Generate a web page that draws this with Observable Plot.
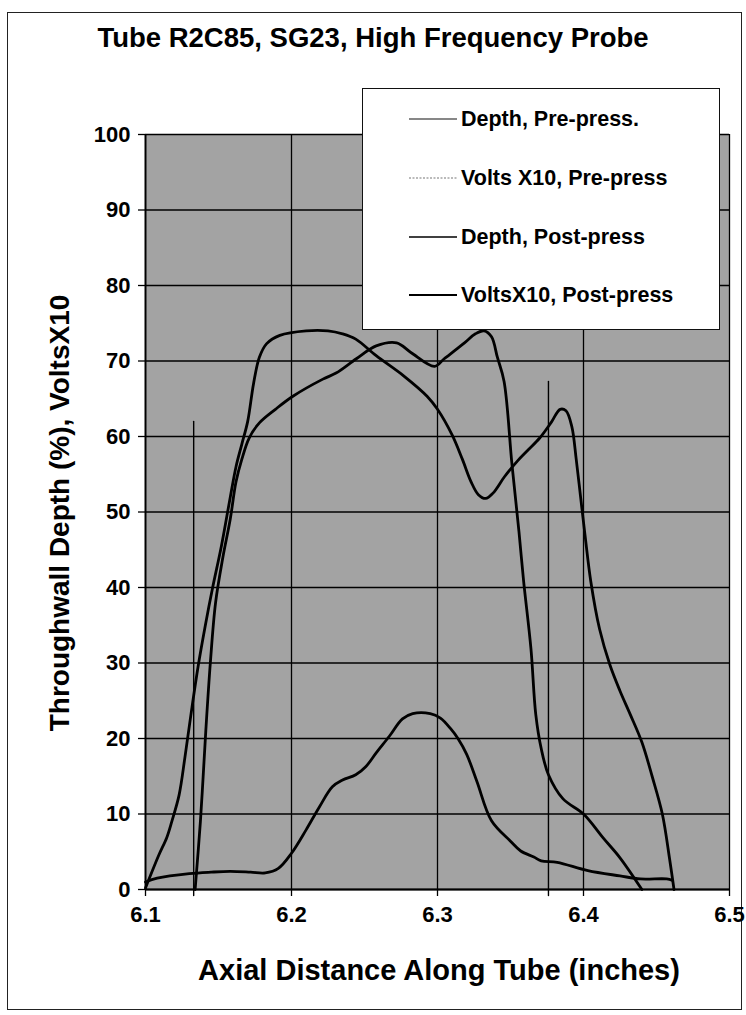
<!DOCTYPE html>
<html><head><meta charset="utf-8">
<script src="https://cdn.jsdelivr.net/npm/d3@7"></script>
<script src="https://cdn.jsdelivr.net/npm/@observablehq/plot@0.6"></script>
<style>
body{margin:0;background:#fff;}
#wrap{position:relative;width:746px;height:1015px;overflow:hidden;font-family:"Liberation Sans",Arial,sans-serif;font-weight:bold;color:#000;}
#border{position:absolute;left:7px;top:12px;width:735px;height:998px;border:1.5px solid #222;box-sizing:border-box;}
#chart{position:absolute;left:0;top:0;}
#title{position:absolute;left:0;width:746px;top:22px;text-align:center;font-size:27.5px;white-space:nowrap;}
#ytitle{position:absolute;left:60px;top:513px;transform:translate(-50%,-50%) rotate(-90deg);font-size:28px;white-space:nowrap;}
#xtitle{position:absolute;left:439px;top:970px;transform:translate(-50%,-50%);font-size:29px;white-space:nowrap;}
#legend{position:absolute;left:362px;top:88px;width:358px;height:242px;background:#fff;border:1.3px solid #111;box-sizing:border-box;}
.entry{position:absolute;left:44px;height:26px;display:flex;align-items:center;font-size:21.5px;white-space:nowrap;}
.entry svg{margin-right:4px;}
</style>
</head><body>
<div id="wrap">
  <div id="border"></div>
  <div id="chart"></div>
  <div id="title"></div>
  <div id="ytitle"></div>
  <div id="xtitle"></div>
  <div id="legend"></div>
</div>
<script>
// ---- text ----
const titleText = "Tube R2C85, SG23, High Frequency Probe";
const xTitle = "Axial Distance Along Tube (inches)";
const yTitle = "Throughwall Depth (%), VoltsX10";
const seriesNames = ["Depth, Pre-press.", "Volts X10, Pre-press", "Depth, Post-press", "VoltsX10, Post-press"];

// ---- ticks ----
const xTicks = [6.1, 6.2, 6.3, 6.4, 6.5];
const xTickLabels = ["6.1", "6.2", "6.3", "6.4", "6.5"];
const yTicks = [0, 10, 20, 30, 40, 50, 60, 70, 80, 90, 100];

// ---- Depth, Pre-press (two vertical segments) ----
const depthPreX   = [6.133, 6.133, 6.376, 6.376];
const depthPreY   = [-0.8, 62, 67.3, -0.8];
const depthPreSeg = [1, 1, 2, 2];

// ---- Volts X10, Pre-press ----
const voltsPreX = [6.100, 6.108, 6.130, 6.145, 6.158, 6.172, 6.182, 6.191, 6.200, 6.210, 6.219, 6.228, 6.235, 6.244, 6.251, 6.258, 6.267, 6.276, 6.283, 6.295, 6.302, 6.309, 6.314, 6.320, 6.327, 6.337, 6.350, 6.357, 6.366, 6.371, 6.382, 6.403, 6.425, 6.439, 6.457, 6.461];
const voltsPreY = [1.0, 1.5, 2.1, 2.3, 2.4, 2.3, 2.2, 2.8, 4.8, 7.9, 10.9, 13.6, 14.5, 15.2, 16.3, 18.1, 20.3, 22.6, 23.3, 23.3, 22.7, 21.3, 20.0, 17.9, 14.3, 9.1, 6.4, 5.1, 4.3, 3.8, 3.6, 2.5, 1.8, 1.4, 1.4, 1.2];

// ---- Depth, Post-press ----
const depthPostX = [6.134, 6.1376, 6.1395, 6.1413, 6.1444, 6.148, 6.153, 6.158, 6.162, 6.166, 6.171, 6.178, 6.189, 6.2007, 6.2215, 6.2305, 6.2444, 6.258, 6.272, 6.282, 6.298, 6.3046, 6.3185, 6.326, 6.332, 6.337, 6.341, 6.3456, 6.351, 6.3558, 6.359, 6.364, 6.3673, 6.371, 6.376, 6.386, 6.400, 6.4136, 6.425, 6.440];
const depthPostY = [0, 9, 15, 21, 30, 38, 44, 49, 54, 57, 59.8, 61.8, 63.6, 65.3, 67.6, 68.4, 70.3, 72.0, 72.4, 71.1, 69.3, 70.3, 72.4, 73.6, 74.0, 73.2, 70.5, 67.3, 56.3, 47.4, 40.8, 31.9, 23.2, 18.7, 15.2, 12.0, 10.0, 6.8, 4.2, 0];

// ---- VoltsX10, Post-press ----
const voltsPostX = [6.100, 6.109, 6.1146, 6.118, 6.123, 6.127, 6.131, 6.136, 6.141, 6.146, 6.152, 6.158, 6.162, 6.166, 6.170, 6.174, 6.178, 6.183, 6.192, 6.210, 6.225, 6.235, 6.244, 6.258, 6.277, 6.293, 6.300, 6.310, 6.317, 6.323, 6.328, 6.333, 6.338, 6.346, 6.355, 6.362, 6.370, 6.378, 6.384, 6.388, 6.392, 6.395, 6.398, 6.401, 6.405, 6.411, 6.418, 6.425, 6.432, 6.440, 6.447, 6.454, 6.459, 6.462];
const voltsPostY = [0.2, 4.5, 6.9, 9.0, 12.5, 17.5, 23, 29.5, 35, 40, 45.5, 51.9, 56, 59, 62, 67, 70.5, 72.3, 73.4, 74.0, 74.0, 73.6, 72.9, 70.7, 68.0, 65.3, 63.6, 60.2, 57.0, 54.0, 52.3, 51.8, 52.5, 54.7, 56.8, 58.2, 59.8, 61.9, 63.6, 63.4, 61.3, 57.0, 52.0, 47.0, 40.8, 34.5, 29.8, 26.3, 23.2, 19.5, 15.0, 10.0, 4.0, 0];

const toRows = (xs, ys, z) => xs.map((x, i) => ({x, y: ys[i], z: z ? z[i] : 0}));
const depthPre = toRows(depthPreX, depthPreY, depthPreSeg);
const voltsPre = toRows(voltsPreX, voltsPreY);
const depthPost = toRows(depthPostX, depthPostY);
const voltsPost = toRows(voltsPostX, voltsPostY);

const chart = Plot.plot({
  width: 746,
  height: 1015,
  marginLeft: 145,
  marginRight: 17,
  marginTop: 134,
  marginBottom: 126,
  style: {fontFamily: "'Liberation Sans', Arial, sans-serif", fontWeight: "bold", color: "#000", background: "transparent", overflow: "visible"},
  x: {domain: [6.1, 6.5]},
  y: {domain: [0, 100]},
  marks: [
    Plot.frame({fill: "#a3a3a3", stroke: "none"}),
    Plot.gridX(xTicks, {stroke: "#000", strokeOpacity: 1, strokeWidth: 1.3}),
    Plot.gridY(yTicks, {stroke: "#000", strokeOpacity: 1, strokeWidth: 1.3}),
    Plot.axisX(xTicks, {tickFormat: (d, i) => xTickLabels[i], tickSize: 7, tickPadding: 10, fontSize: 22, label: null, stroke: "#000", strokeWidth: 1.3}),
    Plot.axisY(yTicks, {tickSize: 7, tickPadding: 8, fontSize: 22, label: null, stroke: "#000", strokeWidth: 1.3}),
    Plot.ruleY([0], {stroke: "#000", strokeWidth: 1.8}),
    Plot.ruleX([6.1], {stroke: "#000", strokeWidth: 1.8}),
    Plot.line(depthPre, {x: "x", y: "y", z: "z", stroke: "#000", strokeWidth: 1.4}),
    Plot.line(voltsPre, {x: "x", y: "y", stroke: "#000", strokeWidth: 2.8, curve: "catmull-rom"}),
    Plot.line(depthPost, {x: "x", y: "y", stroke: "#000", strokeWidth: 2.8, curve: "catmull-rom"}),
    Plot.line(voltsPost, {x: "x", y: "y", stroke: "#000", strokeWidth: 2.8, curve: "catmull-rom"})
  ]
});
document.getElementById("chart").appendChild(chart);

document.getElementById("title").textContent = titleText;
document.getElementById("xtitle").textContent = xTitle;
document.getElementById("ytitle").textContent = yTitle;

// legend
const swatches = [
  {w: 1.2, color: "#111", dash: null},
  {w: 1.2, color: "#777", dash: "2,1.5"},
  {w: 1.6, color: "#000", dash: null},
  {w: 2.2, color: "#000", dash: null}
];
const entryTops = [17, 76, 135, 193];
const legend = document.getElementById("legend");
seriesNames.forEach((name, i) => {
  const e = document.createElement("div");
  e.className = "entry";
  e.style.top = entryTops[i] + "px";
  const s = swatches[i];
  e.innerHTML = `<svg width="50" height="10"><line x1="2" x2="50" y1="5" y2="5" stroke="${s.color}" stroke-width="${s.w}" ${s.dash ? `stroke-dasharray="${s.dash}"` : ""}/></svg><span></span>`;
  e.querySelector("span").textContent = name;
  legend.appendChild(e);
});
</script>
</body></html>
